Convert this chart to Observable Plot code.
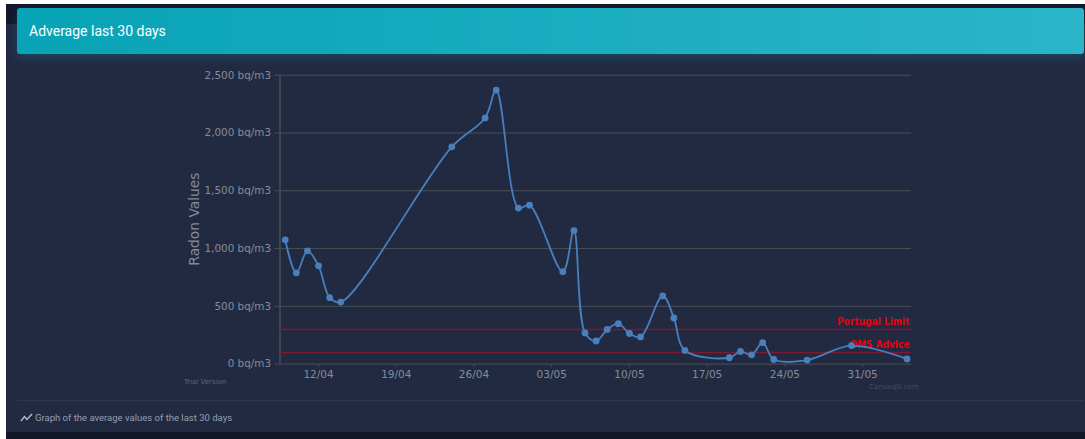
<!DOCTYPE html>
<html><head><meta charset="utf-8">
<script src="https://cdn.jsdelivr.net/npm/d3@7"></script>
<script src="https://cdn.jsdelivr.net/npm/@observablehq/plot@0.6"></script>
<style>
html,body{margin:0;padding:0;width:1085px;height:439px;overflow:hidden;background:#fff;}
#page{position:absolute;left:6px;top:4px;width:1079px;height:435px;background:#141729;}
#panel{position:absolute;left:0;top:20px;width:1079px;height:408px;background:#222a42;}
#head{position:absolute;left:17px;top:8px;width:1067px;height:46px;box-sizing:border-box;border-radius:3px;
background:linear-gradient(90deg,#08a3b6,#2bb5c9);color:#fff;font:14px/46px Roboto,sans-serif;padding-left:12px;box-shadow:0 4px 10px rgba(0,170,190,.22);}
#chart{position:absolute;left:0;top:0;}
#rule{position:absolute;left:17px;top:400px;width:1067px;height:1px;background:#2e3650;}
#foot{position:absolute;left:35px;top:411px;font:9.5px/14px Roboto,sans-serif;color:#979db0;}
#icon{position:absolute;left:20px;top:413px;}
</style></head><body>
<div id="page"><div id="panel"></div></div>
<div id="chart"></div>
<div id="head">Adverage last 30 days</div>
<div id="rule"></div>
<svg id="icon" width="13" height="10" viewBox="0 0 13 10"><path d="M1 8 L4.5 3.5 L7 6.5 L12 1" fill="none" stroke="#b9bfcb" stroke-width="1.3"/></svg>
<div id="foot">Graph of the average values of the last 30 days</div>
<script>
const dates = ["2021-04-09","2021-04-10","2021-04-11","2021-04-12","2021-04-13","2021-04-14","2021-04-24","2021-04-27","2021-04-28","2021-04-30","2021-05-01","2021-05-04","2021-05-05","2021-05-06","2021-05-07","2021-05-08","2021-05-09","2021-05-10","2021-05-11","2021-05-13","2021-05-14","2021-05-15","2021-05-19","2021-05-20","2021-05-21","2021-05-22","2021-05-23","2021-05-26","2021-05-30","2021-06-04"];
const radon = [1075,790,980,850,575,537,1880,2130,2370,1350,1375,800,1155,270,200,300,350,265,235,590,400,118,55,110,80,185,40,35,160,45];
const yTicks = [0,500,1000,1500,2000,2500];
const xTicks = ["2021-04-12","2021-04-19","2021-04-26","2021-05-03","2021-05-10","2021-05-17","2021-05-24","2021-05-31"];
const xDomain = ["2021-04-08T12:40Z","2021-06-04T09:40Z"];
const limits = [300,100];
const limitLabels = ["Portugal Limit","OMS Advice"];

const parse = s => new Date(s.length===10 ? s+"T00:00Z" : s);
const rows = dates.map((d,i)=>({date:parse(d),value:radon[i]}));
const limitRows = limits.map((v,i)=>({value:v,label:limitLabels[i]}));
const font = "'DejaVu Sans',sans-serif";
const xMin = parse(xDomain[0]), xMax = parse(xDomain[1]);

const plot = Plot.plot({
  width:1085,height:439,
  marginLeft:279.5,marginRight:174,marginTop:74.7,marginBottom:75.4,
  style:{background:"transparent",fontFamily:font,overflow:"visible"},
  x:{type:"utc",domain:[xMin,xMax]},
  y:{domain:[0,2500]},
  marks:[
    Plot.ruleY(yTicks,{stroke:"#4a4f55",strokeWidth:1,strokeOpacity:1}),
    Plot.ruleX([xMin],{stroke:"#4a4f55",strokeWidth:1.5}),
    Plot.ruleY(limits,{stroke:"#7c1a30",strokeWidth:1.5}),
    Plot.text(limitRows,{x:xMax,y:"value",text:"label",textAnchor:"end",dx:-2,dy:-7.5,fill:"#e8000f",fontSize:10,fontWeight:"600",fontFamily:"'DejaVu Sans Condensed','DejaVu Sans',sans-serif"}),
    Plot.axisY({ticks:yTicks,tickFormat:d=>d3.format(",")(d)+" bq/m3",tickSize:5,tickPadding:4,stroke:"#4a4f55",fill:"#858a9c",fontSize:10.4,label:null}),
    Plot.axisX({ticks:xTicks.map(parse),tickFormat:d3.utcFormat("%d/%m"),tickSize:3,tickPadding:3,stroke:"#4a4f55",fill:"#858a9c",fontSize:10.5,label:null}),
    Plot.line(rows,{x:"date",y:"value",stroke:"#4a7fbd",strokeWidth:1.8,curve:"catmull-rom"}),
    Plot.dot(rows,{x:"date",y:"value",r:3.4,fill:"#4a7fbd"}),
    Plot.text(["Radon Values"],{frameAnchor:"left",dx:-85,dy:46,rotate:-90,fill:"#858a9c",fontSize:13.8,fontWeight:"400"}),
    Plot.text(["Trial Version"],{frameAnchor:"bottom-left",dx:-96,dy:20,fill:"#5f6579",fontSize:7}),
    Plot.text(["CanvasJS.com"],{frameAnchor:"bottom-right",dx:7,dy:25,fill:"#474d60",fontSize:7})
  ]
});
document.getElementById("chart").appendChild(plot);
</script>
</body></html>
